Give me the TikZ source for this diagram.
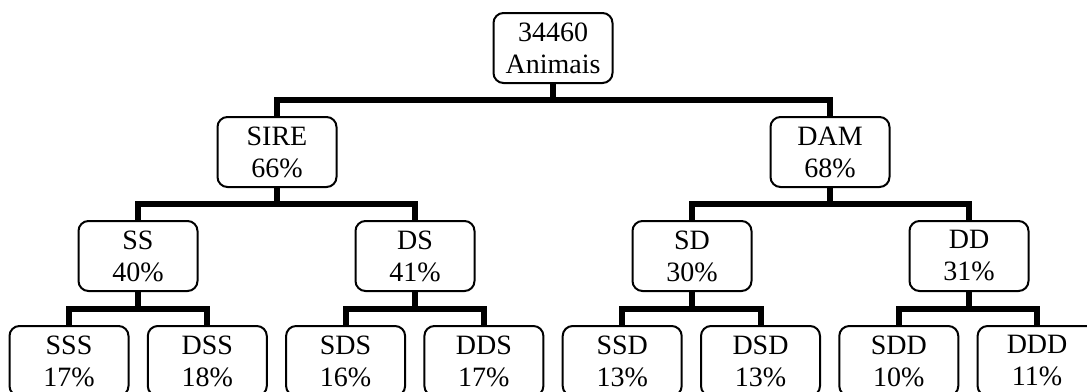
\documentclass[tikz,border=0pt]{standalone}
\usepackage{fontspec}
\setmainfont{Liberation Serif}
\usetikzlibrary{calc}
\tikzset{
	every node/.style = {font=\fontsize{14}{16}\selectfont},
	box/.style = {draw, line width=1pt, rounded corners=5pt, minimum width=59.5pt, minimum height=35pt, align=center, inner sep=0pt},
	bus/.style = {line width=3pt}
}

\begin{document}
\begin{tikzpicture}[x=0.5pt, y=-0.5pt]
		\clip (0,0) rectangle (1087,391);
		% root
		\node[box] (root) at (553,48) {34460\\Animais};
		% depth 1
		\node[box] (sire) at (277,152) {SIRE\\66\%};
		\node[box] (dam) at (830,152) {DAM\\68\%};
		% depth 2
		\node[box] (ss) at (138,256) {SS\\40\%};
		\node[box] (ds) at (415,256) {DS\\41\%};
		\node[box] (sd) at (692,256) {SD\\30\%};
		\node[box] (dd) at (969,256) {DD\\31\%};
		% depth 3
		\foreach \n/\t/\p [count=\i from 0] in {sss/SSS/17, dss/DSS/18, sds/SDS/16, dds/DDS/17, ssd/SSD/13, dsd/DSD/13, sdd/SDD/10, ddd/DDD/11}
			\node[box] (\n) at ({69+138.3*\i},361) {\t\\\p\%};
		
		% connectors
		\foreach \a/\b in {root/sire, root/dam, sire/ss, sire/ds, dam/sd, dam/dd, ss/sss, ss/dss, ds/sds, ds/dds, sd/ssd, sd/dsd, dd/sdd, dd/ddd}
			\draw[bus] (\a.south) -- ($(\a.south)!.5!(\a.south|-\b.north)$) -| (\b.north);
	\end{tikzpicture}
\end{document}
